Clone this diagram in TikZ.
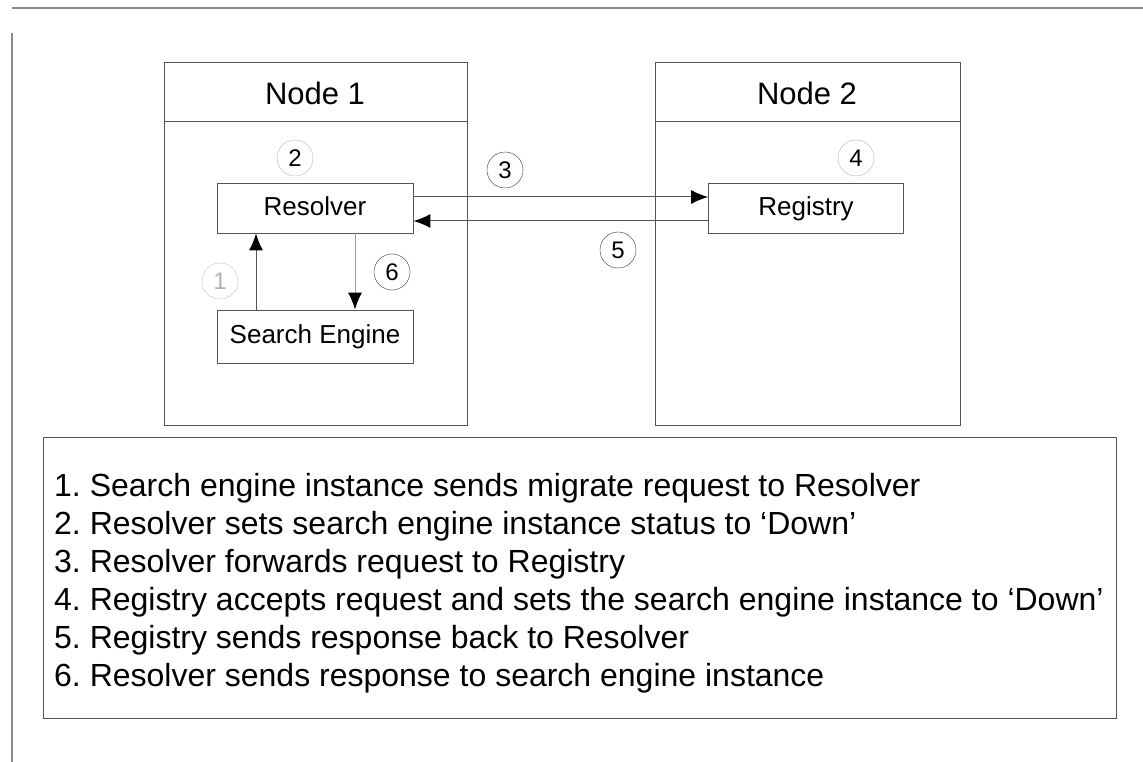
\documentclass[tikz,border=0pt]{standalone}
\usepackage{fontspec}
\setmainfont{Liberation Sans}
\usetikzlibrary{arrows.meta}
\definecolor{framegray}{HTML}{8A8A8A}
\definecolor{linegray}{HTML}{555555}
\tikzset{
  box/.style={draw=linegray, line width=0.9pt, minimum height=50pt, minimum width=196pt, inner sep=0pt,
    text height=19pt, text depth=5pt, font=\fontsize{26}{30}\selectfont},
  num/.style={draw=linegray, circle, line width=0.5pt, minimum size=36pt, inner sep=0pt, font=\fontsize{24}{28}\selectfont},
  tip/.style={-{Latex[length=17pt,width=14pt,fill=black,color=black]}},
  flow/.style={draw=linegray, line width=1pt, tip},
  title/.style={font=\fontsize{31}{35}\selectfont},
  legend/.style={anchor=base west, inner sep=0pt, font=\fontsize{32}{36}\selectfont}
}
\begin{document}
\frenchspacing
\begin{tikzpicture}[x=1pt,y=-1pt]
\useasboundingbox (0,0) rectangle (1143,762);
% page frame
\draw[framegray, line width=2pt] (12,8) -- (1143,8);
\draw[framegray, line width=1.2pt] (12,33) -- (12,762);
% node frames with title bands
\draw[linegray, line width=0.9pt] (164,62) rectangle (467,425);
\draw[linegray, line width=0.9pt] (164,121) -- (467,121);
\node[title] (n1) at (315,93) {Node 1};
\draw[linegray, line width=0.9pt] (655,62) rectangle (960,425);
\draw[linegray, line width=0.9pt] (655,121) -- (960,121);
\node[title] (n2) at (807,93) {Node 2};
% components
\node[box] (res) at (315,208) {Resolver};
\node[box, minimum height=53pt] (se) at (315,336.5) {Search Engine};
\node[box, minimum width=195pt] (reg) at (806,208.5) {Registry};
% message flows
\draw[flow] (res.east |- 0,197) -- (reg.west |- 0,197);
\draw[flow] (reg.west |- 0,221) -- (res.east |- 0,221);
\draw[flow] (se.north -| 256,0) -- (res.south -| 256,0);
\draw[flow, draw=gray!80] (res.south -| 355,0) -- (se.north -| 355,0);
% step numbers
\node[num, draw=gray!40] (c1) at (220,281) {\textcolor{gray!60}{1}};
\node[num, draw=gray!50] (c2) at (295,158) {2};
\node[num] (c3) at (505,170) {3};
\node[num, draw=gray!50] (c4) at (856,158) {4};
\node[num] (c5) at (618,250) {5};
\node[num] (c6) at (392,272) {6};
% legend
\draw[linegray, line width=0.9pt] (43,437) rectangle (1116,718);
\node[legend] (l1) at (54,496) {1. Search engine instance sends migrate request to Resolver};
\node[legend] (l2) at (54,534) {2. Resolver sets search engine instance status to ‘Down’};
\node[legend] (l3) at (54,572) {3. Resolver forwards request to Registry};
\node[legend] (l4) at (54,610) {4. Registry accepts request and sets the search engine instance to ‘Down’};
\node[legend] (l5) at (54,648) {5. Registry sends response back to Resolver};
\node[legend] (l6) at (54,686) {6. Resolver sends response to search engine instance};
\end{tikzpicture}
\end{document}
